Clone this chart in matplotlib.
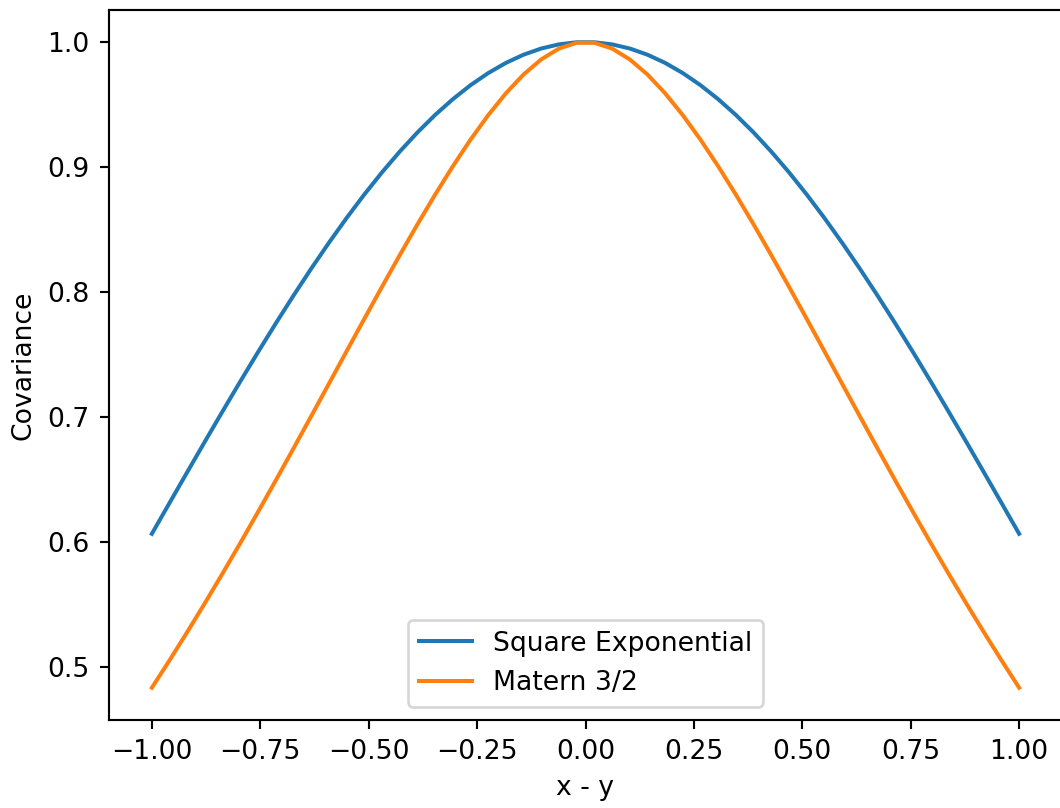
import matplotlib
matplotlib.use("Agg")
import matplotlib.pyplot as plt
import numpy as np

# Half-grid distances (positive side of a symmetric 50-point grid on [-1, 1])
d_half = [0.020408, 0.061224, 0.102041, 0.142857, 0.183673, 0.224490, 0.265306,
          0.306122, 0.346939, 0.387755, 0.428571, 0.469388, 0.510204, 0.551020,
          0.591837, 0.632653, 0.673469, 0.714286, 0.755102, 0.795918, 0.836735,
          0.877551, 0.918367, 0.959184, 1.000000]

se_half = [0.99979, 0.99813, 0.99481, 0.98985, 0.98328, 0.97512, 0.96542,
           0.95422, 0.94159, 0.92758, 0.91225, 0.89569, 0.87796, 0.85915,
           0.83934, 0.81863, 0.79710, 0.77484, 0.75195, 0.72852, 0.70464,
           0.68042, 0.65593, 0.63127, 0.60653]

matern_half = [0.99939, 0.99476, 0.98611, 0.97400, 0.95895, 0.94142, 0.92181,
               0.90050, 0.87780, 0.85400, 0.82936, 0.80411, 0.77844, 0.75253,
               0.72653, 0.70057, 0.67478, 0.64923, 0.62404, 0.59925, 0.57495,
               0.55117, 0.52796, 0.50534, 0.48336]

x = [-v for v in d_half[::-1]] + d_half
se = se_half[::-1] + se_half
matern = matern_half[::-1] + matern_half

labels = ["Square Exponential", "Matern 3/2"]

dpi = 192
fig = plt.figure(figsize=(1060 / dpi, 808 / dpi), dpi=dpi)
ax = fig.add_axes([108.5 / 1060, 88 / 808, 954 / 1060, 710 / 808])
ax.plot(x, se, label=labels[0])
ax.plot(x, matern, label=labels[1])
ax.set_xlabel("x - y")
ax.set_ylabel("Covariance")
ax.legend(loc="lower center")
fig.savefig("out.png", dpi=dpi)
